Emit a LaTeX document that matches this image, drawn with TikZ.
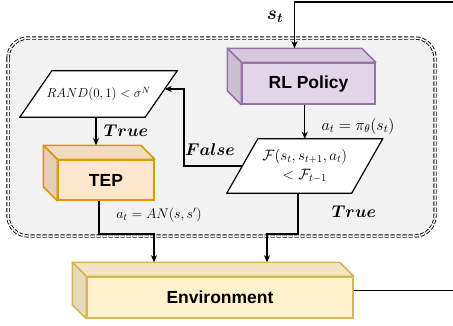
\RequirePackage{fix-cm}
\documentclass[tikz,border=0pt]{standalone}
\usepackage{amsmath}
\usepackage{fontspec}
\newfontfamily\labelsans{Liberation Sans}
\usetikzlibrary{arrows.meta,calc}

\definecolor{panelgray}{HTML}{F2F2F2}
\definecolor{rlfront}{HTML}{E1D5E7}
\definecolor{rltop}{HTML}{D6CBDC}
\definecolor{rlside}{HTML}{CBC0D0}
\definecolor{rlline}{HTML}{9673A6}
\definecolor{tepfront}{HTML}{FFE6CC}
\definecolor{teptop}{HTML}{F2DBC2}
\definecolor{tepside}{HTML}{E6CFB8}
\definecolor{tepline}{HTML}{D79B00}
\definecolor{envfront}{HTML}{FFF2CC}
\definecolor{envtop}{HTML}{F2E6C2}
\definecolor{envside}{HTML}{E6DAB8}
\definecolor{envline}{HTML}{D6B656}

\pgfdeclarelayer{panel}
\pgfdeclarelayer{shapes}
\pgfsetlayers{panel,shapes,main}

% top and left faces of a box drawn behind its front node
\newcommand\cubefaces[4]{%
  \filldraw[draw=#2, fill=#3, line width=1.5pt, line join=round]
    (#1.north west) -- ++(-14,-14) -- ($(#1.north east)+(-14,-14)$) -- (#1.north east) -- cycle;
  \filldraw[draw=#2, fill=#4, line width=1.5pt, line join=round]
    (#1.north west) -- ++(-14,-14) -- ($(#1.south west)+(-14,-14)$) -- (#1.south west) -- cycle;}

% parallelogram outline around a text node
\newcommand\slantbox[2]{%
  \begin{pgfonlayer}{shapes}
  \filldraw[draw=black, fill=white, line width=1.2pt, line join=miter]
    ($(#1.south west)+(-#2,0)$) -- ($(#1.south east)+(-#2,0)$) --
    ($(#1.north east)+(#2,0)$) -- ($(#1.north west)+(#2,0)$) -- cycle;
  \end{pgfonlayer}}

\begin{document}
\begin{tikzpicture}[x=1pt, y=-1pt,
  conn/.style={line width=1.2pt, -{Stealth[length=7pt,width=6pt,inset=2pt]}},
  wire/.style={line width=1.2pt},
  cubefront/.style={draw, line width=1.5pt, inner sep=0pt,
    font=\labelsans\bfseries\fontsize{17.5}{20}\selectfont},
  decision/.style={rectangle, inner sep=0pt, align=center},
  mathlabel/.style={inner sep=0pt, font=\fontsize{14}{16}\selectfont},
  verdict/.style={inner sep=0pt, font=\fontsize{17}{20}\selectfont}]
\useasboundingbox (0,0) rectangle (453,325);

% agent panel
\begin{pgfonlayer}{panel}
\draw[fill=panelgray, dash pattern=on 4pt off 2pt, double=white, double distance=1.5pt,
      line width=0.9pt, rounded corners=20pt] (8,38) rectangle (435,236);
\end{pgfonlayer}

% boxes
\node[cubefront, fill=rlfront, draw=rlline, minimum width=133pt, minimum height=41pt]
  (rl) at (308.5,83.5) {RL Policy};
\cubefaces{rl}{rlline}{rltop}{rlside}
\node[cubefront, fill=tepfront, draw=tepline, minimum width=96pt, minimum height=40pt]
  (tep) at (106,180) {TEP};
\cubefaces{tep}{tepline}{teptop}{tepside}
\node[cubefront, fill=envfront, draw=envline, minimum width=266pt, minimum height=41pt]
  (env) at (220,297.5) {Environment};
\cubefaces{env}{envline}{envtop}{envside}

% decisions
\node[decision, minimum width=125pt, minimum height=46pt,
      font=\fontsize{13}{16}\selectfont] (chance) at (98.5,94)
  {$RAND(0,1) < \sigma^{N}$};
\slantbox{chance}{16}
\node[decision, minimum width=124.5pt, minimum height=54pt,
      font=\fontsize{15}{19}\selectfont] (better) at (304.75,166)
  {$\mathcal{F}(s_t, s_{t+1}, a_t)$\\[0pt]$<\mathcal{F}_{t-1}$};
\slantbox{better}{15.5}

% reference points on the back edges of the boxes
\coordinate (rlback) at ($(rl.north)+(-14,-14)$);
\coordinate (tepback) at ($(tep.north)+(-14,-14)$);
\coordinate (envback) at ($(env.north)+(-14,-14)$);
\coordinate (statein) at (456,2);
\coordinate (envout) at (456,290.5);
\coordinate (jtep) at (154,234);
\coordinate (jbetter) at (267,234);
\coordinate (chancein) at ($(chance.east)+(3.5,-5)$);
\coordinate (falsebend) at (184,166);

% connectors
\draw[conn] (statein) -| (rlback);
\draw[conn] (rl.south -| better.north) -- (better.north);
\draw[conn] ([xshift=-2.5pt]chance.south) -- ([xshift=-2.5pt]chance.south |- tepback);
\draw[conn] (better.west) -- (falsebend) |- (chancein);
\draw[conn] ([xshift=-7pt]tep.south) |- (jtep) -- (jtep |- envback);
\draw[conn] ([xshift=-6.75pt]better.south) |- (jbetter) -- (jbetter |- envback);
\draw[wire] ([yshift=7pt]env.east) -- (envout);

% labels
\node[verdict, font=\fontsize{19}{22}\selectfont] (lstate) at (275,17) {$\boldsymbol{s_t}$};
\node[verdict] (ltrue1) at (126,131) {$\boldsymbol{True}$};
\node[verdict] (lfalse) at (210,150) {$\boldsymbol{False}$};
\node[verdict] (ltrue2) at (354,212) {$\boldsymbol{True}$};
\node[mathlabel, font=\fontsize{16}{18}\selectfont] (lpolicy) at (358,126)
  {$a_t = \pi_\theta(s_t)$};
\node[mathlabel] (lexplore) at (159,215) {$a_t = AN(s, s')$};
\end{tikzpicture}
\end{document}
